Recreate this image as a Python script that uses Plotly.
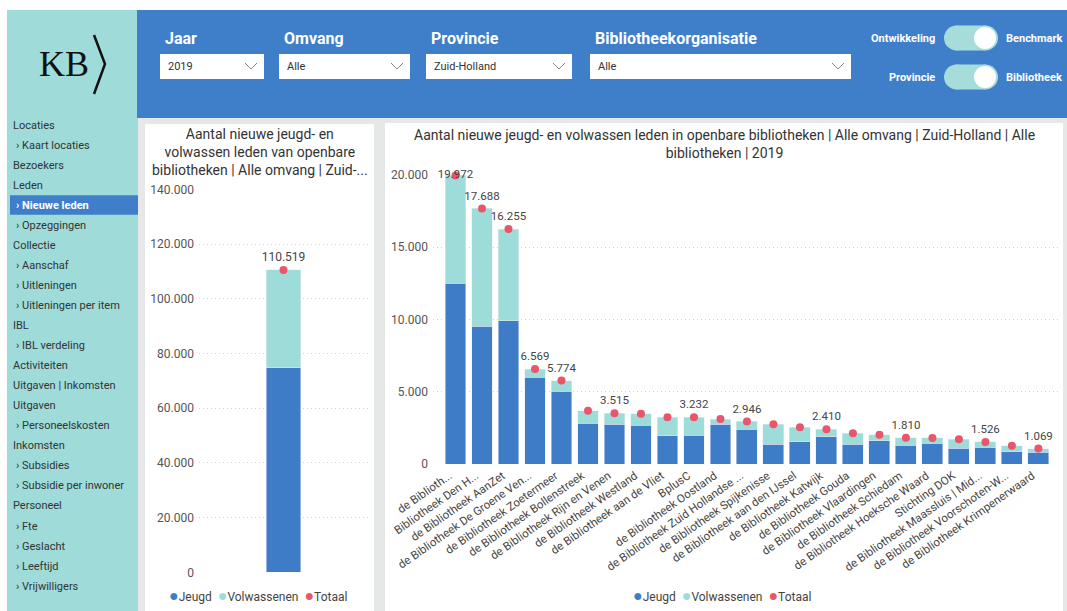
import plotly.graph_objects as go

W, H = 1067, 611

# ---------------- data ----------------
bibliotheken = [
    "de Biblioth...", "Bibliotheek Den H...", "de Bibliotheek AanZet",
    "de Bibliotheek De Groene Ven...", "de Bibliotheek Zoetermeer",
    "de Bibliotheek Bollenstreek", "de Bibliotheek Rijn en Venen",
    "de Bibliotheek Westland", "de Bibliotheek aan de Vliet", "BplusC",
    "de Bibliotheek Oostland", "de Bibliotheek Zuid Hollandse ...",
    "de Bibliotheek Spijkenisse", "de Bibliotheek aan den IJssel",
    "de Bibliotheek Katwijk", "de Bibliotheek Gouda",
    "de Bibliotheek Vlaardingen", "de Bibliotheek Schiedam",
    "de Bibliotheek Hoeksche Waard", "Stichting DOK",
    "de Bibliotheek Maassluis | Mid...", "de Bibliotheek Voorschoten-W...",
    "de Bibliotheek Krimpenerwaard",
]
jeugd = [12500, 9550, 9900, 6000, 5050, 2820, 2750, 2680, 1960, 1980, 2750, 2420,
         1380, 1550, 1890, 1380, 1610, 1310, 1430, 1080, 1150, 850, 810]
volwassenen = [7472, 8138, 6355, 569, 724, 870, 765, 800, 1280, 1252, 360, 526,
               1370, 990, 520, 740, 420, 500, 370, 630, 376, 420, 259]
totaal = [19972, 17688, 16255, 6569, 5774, 3690, 3515, 3480, 3240, 3232, 3110, 2946,
          2750, 2540, 2410, 2120, 2030, 1810, 1800, 1710, 1526, 1270, 1069]
label_zichtbaar = [1, 1, 1, 1, 1, 0, 1, 0, 0, 1, 0, 1, 0, 0, 1, 0, 0, 1, 0, 0, 1, 0, 1]

provincie_cat = ["Zuid-Holland"]
provincie_jeugd = [74800]
provincie_volwassenen = [35719]
provincie_totaal = [110519]

left_yticks = [0, 20000, 40000, 60000, 80000, 100000, 120000, 140000]
right_yticks = [0, 5000, 10000, 15000, 20000]

nav_items = [
    ("Locaties", 0), ("Kaart locaties", 1), ("Bezoekers", 0), ("Leden", 0),
    ("Nieuwe leden", 2), ("Opzeggingen", 1), ("Collectie", 0), ("Aanschaf", 1),
    ("Uitleningen", 1), ("Uitleningen per item", 1), ("IBL", 0), ("IBL verdeling", 1),
    ("Activiteiten", 0), ("Uitgaven | Inkomsten", 0), ("Uitgaven", 0),
    ("Personeelskosten", 1), ("Inkomsten", 0), ("Subsidies", 1),
    ("Subsidie per inwoner", 1), ("Personeel", 0), ("Fte", 1), ("Geslacht", 1),
    ("Leeftijd", 1), ("Vrijwilligers", 1),
]

# ---------------- style ----------------
C_JEUGD = "#3F7CC8"
C_VOLW = "#9EDCDA"
C_TOT = "#E8566C"
C_HEADER = "#3F7EC9"
C_SIDE = "#9EDBD9"
C_BG = "#E6E7E7"
FONT = "Roboto, 'Open Sans', sans-serif"


def fmt(v):
    return f"{v:,}".replace(",", ".")


def px(x):
    return x / W


def py(y):
    return 1 - y / H


shapes = []
annotations = []


def rect(x0, y0, x1, y1, color, layer="below"):
    shapes.append(dict(type="rect", xref="paper", yref="paper",
                       x0=px(x0), x1=px(x1), y0=py(y1), y1=py(y0),
                       fillcolor=color, line=dict(width=0), layer=layer))


def circle(x0, y0, x1, y1, color, layer="above"):
    shapes.append(dict(type="circle", xref="paper", yref="paper",
                       x0=px(x0), x1=px(x1), y0=py(y1), y1=py(y0),
                       fillcolor=color, line=dict(width=0), layer=layer))


def text(x, y, s, size=11, color="#333333", xanchor="left", bold=False, family=FONT):
    if bold:
        s = f"<b>{s}</b>"
    annotations.append(dict(x=px(x), y=py(y), xref="paper", yref="paper", text=s,
                            showarrow=False, xanchor=xanchor, yanchor="middle",
                            font=dict(size=size, color=color, family=family)))


def chevron(cx, cy):
    shapes.append(dict(type="path", xref="paper", yref="paper",
                       path=f"M {px(cx-6)} {py(cy-3)} L {px(cx)} {py(cy+3)} L {px(cx+6)} {py(cy-3)}",
                       line=dict(color="#8a8a8a", width=1), layer="above"))


# page background pieces
rect(0, 0, W, 10, "white")
rect(0, 0, 7, H, "white")
rect(7, 10, 138, H, C_SIDE)
rect(137, 10, W, 118, C_HEADER)
rect(145, 124, 374, H, "white")
rect(385, 123, 1063, H, "white")

# logo
text(64, 64, "KB", size=36, color="#111111", xanchor="center",
     family="'Liberation Serif', 'DejaVu Serif', serif")
shapes.append(dict(type="path", xref="paper", yref="paper",
                   path=f"M {px(94)} {py(35)} L {px(105)} {py(64)} L {px(94)} {py(94)}",
                   line=dict(color="#111111", width=2.5), layer="above"))

# sidebar navigation
for i, (label, kind) in enumerate(nav_items):
    y = 125 + i * 20.05
    if kind == 2:
        rect(10, y - 10, 138, y + 9.5, C_HEADER, layer="above")
        text(14, y, "› " + label, size=11, color="white", bold=True)
    elif kind == 1:
        text(14, y, "› " + label, size=11, color="#333333")
    else:
        text(11, y, label, size=11, color="#333333")

# header slicers
slicers = [("Jaar", "2019", 160, 264), ("Omvang", "Alle", 279, 410),
           ("Provincie", "Zuid-Holland", 426, 572), ("Bibliotheekorganisatie", "Alle", 590, 851)]
for lab, val, x0, x1 in slicers:
    text(x0 + 3, 39, lab, size=16, color="white", bold=True)
    rect(x0, 54, x1, 79, "white", layer="above")
    text(x0 + 6, 66.5, val, size=11, color="#333333")
    chevron(x1 - 13, 66)

# toggles
for (ly, left_lab, right_lab) in [(38, "Ontwikkeling", "Benchmark"), (77, "Provincie", "Bibliotheek")]:
    text(937, ly, left_lab, size=11, color="white", xanchor="right", bold=True)
    text(1004, ly, right_lab, size=11, color="white", bold=True)
    rect(956, ly - 12.5, 986, ly + 12.5, "#A6DDDA", layer="above")
    circle(944, ly - 12.5, 969, ly + 12.5, "#A6DDDA")
    circle(973, ly - 12.5, 998, ly + 12.5, "#A6DDDA")
    circle(974, ly - 11, 996, ly + 11, "white")

# chart titles
text(259.5, 152, "Aantal nieuwe jeugd- en<br>volwassen leden van openbare<br>bibliotheken | Alle omvang | Zuid-...",
     size=14, color="#333333", xanchor="center")
text(724, 143.5, "Aantal nieuwe jeugd- en volwassen leden in openbare bibliotheken | Alle omvang | Zuid-Holland | Alle<br>bibliotheken | 2019",
     size=14, color="#333333", xanchor="center")

# legends
def legend_text():
    d = "<span style='font-size:16px;color:%s'>●</span>"
    return (d % C_JEUGD + "Jeugd  " + d % C_VOLW + "Volwassenen  " + d % C_TOT + "Totaal")

text(258, 595, legend_text(), size=12, color="#444444", xanchor="center")
text(722, 595, legend_text(), size=12, color="#444444", xanchor="center")

# ---------------- traces ----------------
fig = go.Figure()

# left chart
fig.add_trace(go.Bar(x=provincie_cat, y=provincie_jeugd, marker_color=C_JEUGD, width=0.207,
                     xaxis="x", yaxis="y", showlegend=False, hoverinfo="skip"))
fig.add_trace(go.Bar(x=provincie_cat, y=provincie_volwassenen, marker_color=C_VOLW, width=0.207,
                     xaxis="x", yaxis="y", showlegend=False, hoverinfo="skip"))
fig.add_trace(go.Scatter(x=provincie_cat, y=provincie_totaal, mode="markers+text",
                         marker=dict(color=C_TOT, size=8),
                         text=[fmt(v) for v in provincie_totaal], textposition="top center",
                         textfont=dict(size=12, color="#444444", family=FONT),
                         cliponaxis=False, xaxis="x", yaxis="y", showlegend=False, hoverinfo="skip"))

# right chart
fig.add_trace(go.Bar(x=bibliotheken, y=jeugd, marker_color=C_JEUGD, width=0.79,
                     xaxis="x2", yaxis="y2", showlegend=False, hoverinfo="skip"))
fig.add_trace(go.Bar(x=bibliotheken, y=volwassenen, marker_color=C_VOLW, width=0.79,
                     xaxis="x2", yaxis="y2", showlegend=False, hoverinfo="skip"))
labels = [fmt(v) if s else "" for v, s in zip(totaal, label_zichtbaar)]
positions = ["middle center"] + ["top center"] * (len(totaal) - 1)
fig.add_trace(go.Scatter(x=bibliotheken, y=totaal, mode="markers+text",
                         marker=dict(color=C_TOT, size=8),
                         text=labels, textposition=positions,
                         textfont=dict(size=11.5, color="#444444", family=FONT),
                         cliponaxis=False, xaxis="x2", yaxis="y2", showlegend=False, hoverinfo="skip"))

grid = dict(showgrid=True, gridcolor="#CFCFCF", griddash="1px,3px", gridwidth=1, zeroline=False,
            showline=False, ticks="", automargin=False,
            tickfont=dict(size=12, color="#555555", family=FONT))

fig.update_layout(
    width=W, height=H, margin=dict(l=0, r=0, t=0, b=0, pad=0, autoexpand=False),
    paper_bgcolor=C_BG, plot_bgcolor="rgba(0,0,0,0)",
    barmode="stack", separators=",.", showlegend=False,
    font=dict(family=FONT, color="#333333"),
    xaxis=dict(domain=[px(199), px(368)], range=[-0.5, 0.5], showticklabels=False,
               showgrid=False, zeroline=False, showline=False, anchor="y", automargin=False),
    yaxis=dict(domain=[py(572.3), py(189.3)], range=[0, 140000], tickvals=left_yticks,
               ticktext=[fmt(v) for v in left_yticks], anchor="x", ticklabelstandoff=4, **grid),
    xaxis2=dict(domain=[px(433), px(1058)], range=[-0.85, 22.74], tickangle=-35,
                tickfont=dict(size=11.5, color="#444444", family=FONT), showgrid=False,
                zeroline=False, showline=False, ticks="", anchor="y2", automargin=False,
                ticklabelshift=-6, ticklabelstandoff=2),
    yaxis2=dict(domain=[py(464), py(175)], range=[0, 20000], tickvals=right_yticks,
                ticktext=[fmt(v) for v in right_yticks], anchor="x2", ticklabelstandoff=4, **grid),
    shapes=shapes, annotations=annotations,
)

fig.write_html("out.html", config={"displayModeBar": False},
               post_script="document.body.style.margin='0';document.body.style.overflow='hidden';")
